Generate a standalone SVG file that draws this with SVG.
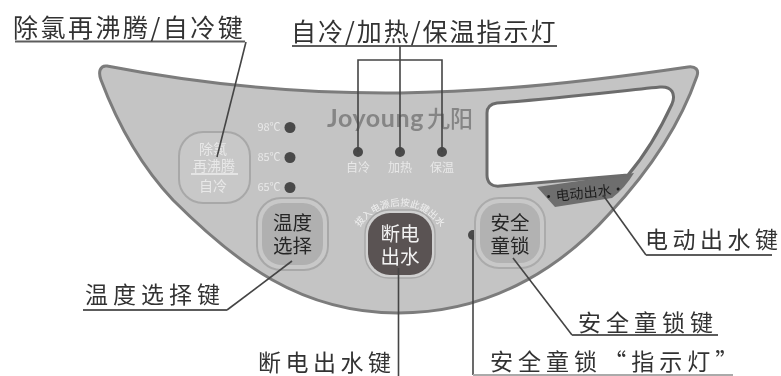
<svg xmlns="http://www.w3.org/2000/svg" xmlns:xlink="http://www.w3.org/1999/xlink" width="781" height="376" viewBox="0 0 781 376">
<style>
text{font-family:"Noto Sans CJK SC","Noto Sans",sans-serif}
.lab{font-size:23px;fill:#333;font-weight:400}
.ln{fill:none;stroke:#444;stroke-width:1.6}
.ul{fill:none;stroke:#5c5c5c;stroke-width:2}
.led{fill:#484848}
.wt{fill:#e8e8e8;font-size:11px;text-anchor:middle}
.wm{fill:#e8e8e8;font-size:14px;text-anchor:middle}
.dk{fill:#262626;font-size:19.5px;text-anchor:middle}
.wb{fill:#f2f2f2;font-size:19.5px;text-anchor:middle}
</style>
<defs>
<filter id="soft" x="-5%" y="-5%" width="110%" height="110%"><feGaussianBlur stdDeviation="0.5"/></filter>
<path id="arc" d="M354 240 A48 48 0 0 1 446 240"/>
</defs>
<g filter="url(#soft)">
<g id="panel">
<path d="M107 66 C200 84 300 94 400 93 C500 92 600 80 688 67 C696 66 699 70 697 76 C680 125 650 170 610 213 C570 258 500 313 398 313 C300 313 235 262 173 200 C140 165 118 125 101 80 C98 72 100 65 107 66Z" fill="#c4c4c4" stroke="#7c7c7c" stroke-width="3"/>
<path d="M537 187 L634 173 Q625 188 612 198 L555 207Z" fill="#6e6e6e"/>
<path d="M497 103 C560 98 610 92 660 87 C672 86 676 94 672 104 C660 130 645 155 628 175 L500 186 C491 187 487 182 487 175 L487 113 C487 107 490 104 497 103Z" fill="#fff" stroke="#6c6c6c" stroke-width="3"/>
<text x="584" y="198" font-size="14" fill="#1e1e1e" text-anchor="middle" transform="rotate(-6 584 198)">·电动出水·</text>
<text x="327" y="127" font-size="25" font-weight="700" letter-spacing="0.6" fill="#858585" style="font-family:'Lato','Noto Sans',sans-serif">Joyoung</text>
<text x="427" y="127" font-size="23" font-weight="500" fill="#858585">九阳</text>
</g>
<g id="btn-rechlor">
<rect x="179" y="132" width="71" height="71" rx="24" fill="#c8c8c8" stroke="#a8a8a8" stroke-width="2"/>
<text class="wm" x="213" y="154">除氯</text>
<text class="wm" x="214" y="171">再沸腾</text>
<path d="M191 174 H238" stroke="#eee" stroke-width="1.5"/>
<text class="wm" x="213" y="191">自冷</text>
</g>
<g id="temp-leds">
<circle class="led" cx="290" cy="127.5" r="5.5"/><circle class="led" cx="290" cy="157.5" r="5.5"/><circle class="led" cx="290" cy="187.5" r="5.5"/>
<text class="wt" x="269" y="131">98℃</text><text class="wt" x="269" y="161">85℃</text><text class="wt" x="269" y="191">65℃</text>
</g>
<g id="btn-temp">
<rect x="257" y="198" width="71" height="72" rx="24" fill="#c8c8c8" stroke="#a8a8a8" stroke-width="2"/>
<rect x="262" y="203" width="61" height="62" rx="20" fill="#b0b0b0"/>
<text class="dk" x="292.500" y="230">温度</text><text class="dk" x="292.500" y="253">选择</text>
</g>
<g id="status-leds">
<circle class="led" cx="358" cy="152" r="5"/><circle class="led" cx="400" cy="152" r="5"/><circle class="led" cx="442" cy="152" r="5"/>
<text class="wt" x="358" y="172" style="font-size:12px">自冷</text><text class="wt" x="400" y="172" style="font-size:12px">加热</text><text class="wt" x="442" y="172" style="font-size:12px">保温</text>
</g>
<g id="btn-power">
<rect x="365" y="210" width="70" height="68" rx="24" fill="#d0d0d0" stroke="#a8a8a8" stroke-width="1.5"/>
<rect x="368" y="213" width="64" height="62" rx="22" fill="#5a5252"/>
<text class="wb" x="400" y="241">断电</text>
<text class="wb" x="400" y="264">出水</text>
<text font-size="9.5" fill="#efefef" text-anchor="middle"><textPath href="#arc" xlink:href="#arc" startOffset="50%">拔入电源后按此键出水</textPath></text>
</g>
<g id="btn-lock">
<circle class="led" cx="473" cy="235" r="5"/>
<rect x="475" y="198" width="70" height="70" rx="24" fill="#c8c8c8" stroke="#ababab" stroke-width="2"/>
<rect x="480" y="203" width="60" height="60" rx="20" fill="#b2b2b2"/>
<text class="dk" x="510" y="230">安全</text><text class="dk" x="510" y="252.500">童锁</text>
</g>
<g id="connectors">
<path class="ul" d="M15 41.500 H245"/><path class="ln" d="M246 42 L217 157"/>
<path class="ul" d="M292 46 H557"/><path class="ln" d="M400 46 V152 M358 152 V60 H442 V152"/>
<path class="ln" d="M603 195 L646 255"/><path class="ul" d="M646 255 H772"/>
<path class="ln" d="M292 261 L227 310"/><path class="ul" d="M83 310 H227"/>
<path class="ln" d="M513 258 L572 335"/><path class="ul" d="M572 335 H718"/>
<path class="ln" d="M398.500 268 V376"/>
<path class="ln" d="M473 235 V375"/><path class="ul" d="M473 375 H733" style="stroke:#aaa"/>
</g>
<g id="labels">
<text class="lab" x="13" y="37" letter-spacing="2.500" style="font-size:25px">除氯再沸腾/自冷键</text>
<text class="lab" x="291" y="41" letter-spacing="2" style="font-size:25px">自冷/加热/保温指示灯</text>
<text class="lab" x="645" y="248" letter-spacing="4.500">电动出水键</text>
<text class="lab" x="85" y="303" letter-spacing="5">温度选择键</text>
<text class="lab" x="578" y="331" letter-spacing="5">安全童锁键</text>
<text class="lab" x="258" y="371" letter-spacing="4.500">断电出水键</text>
<text class="lab" x="490" y="370" letter-spacing="5" word-spacing="-9">安全童锁 “指示灯”</text>
</g>
</g>
</svg>
